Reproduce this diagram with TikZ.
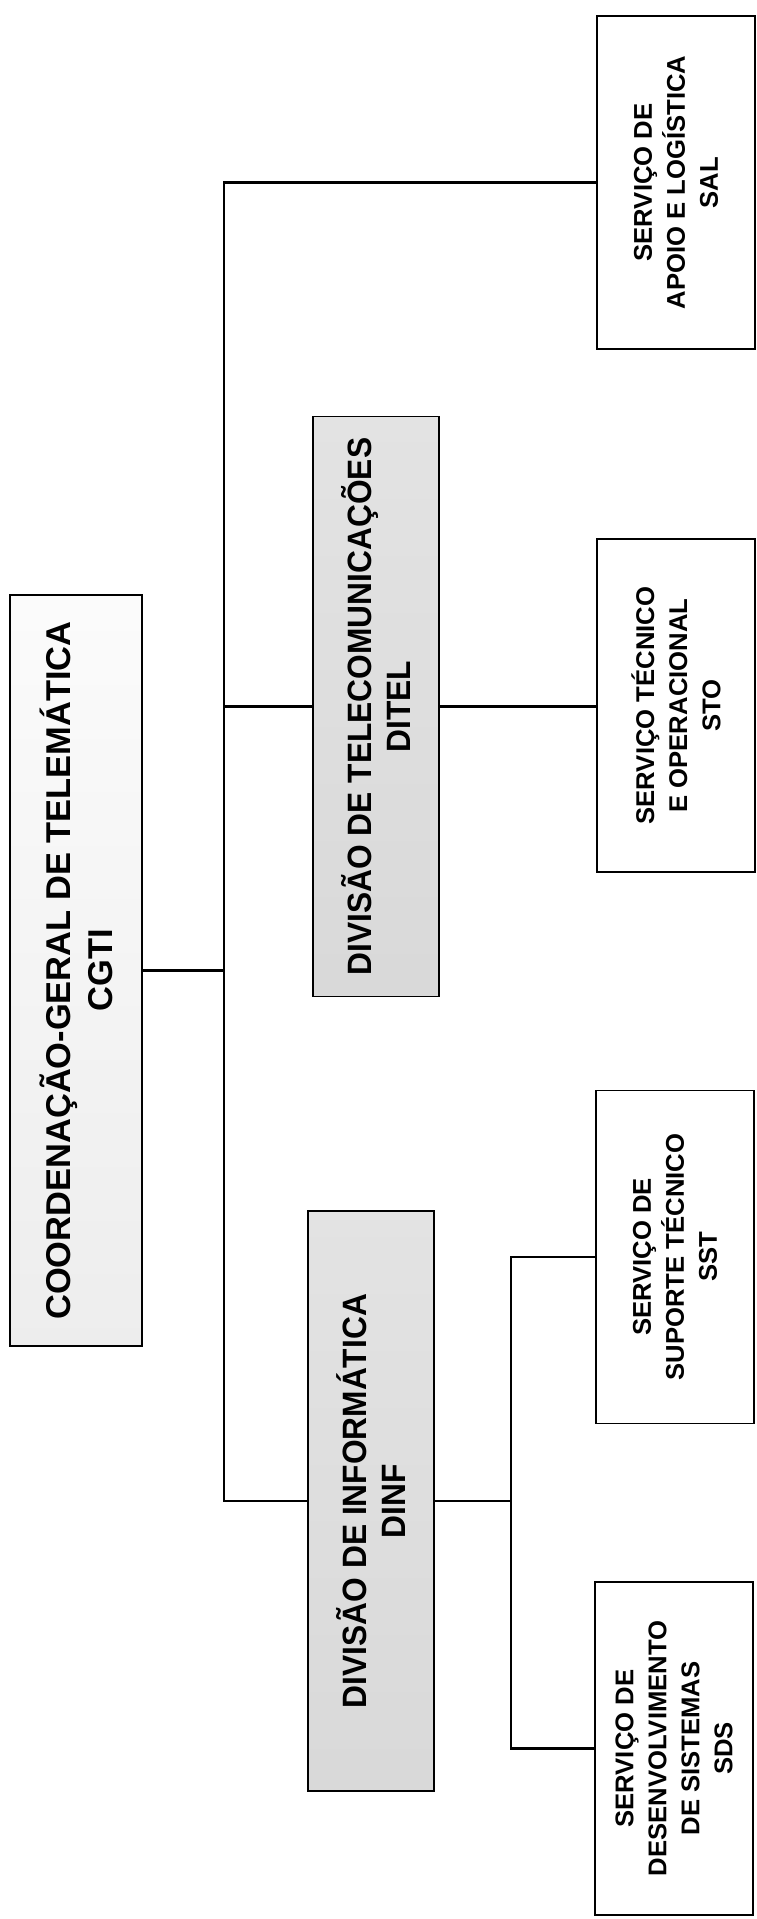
\documentclass[tikz,border=0pt]{standalone}
\usepackage{fontspec}
\setmainfont{Liberation Sans}
\newfontfamily\narrowsans[FakeStretch=0.94]{Liberation Sans}
\usetikzlibrary{positioning}

\begin{document}
\begin{tikzpicture}[
  box/.style={draw, rotate=90, align=center, inner sep=2pt, line width=0.9pt},
  head/.style={box, font=\bfseries\fontsize{19.6}{24}\selectfont,
    minimum width=15.02cm, minimum height=2.64cm, top color=gray!3, bottom color=gray!14},
  divbox/.style={box, font=\narrowsans\bfseries\fontsize{19.2}{21.8}\selectfont,
    minimum width=11.6cm, minimum height=2.52cm,
    top color=gray!22, middle color=gray!6, bottom color=gray!30},
  svc/.style={box, fill=white, font=\bfseries\fontsize{14.6}{18.8}\selectfont,
    minimum width=6.66cm, minimum height=3.16cm},
  link/.style={line width=1.5pt},
]
  \useasboundingbox (0,0) rectangle (15.12,-38.38);

  \node[head] (cgti) at (1.52,-19.41) {COORDENAÇÃO-GERAL DE TELEMÁTICA\\CGTI};

  \node[divbox] (ditel) at (7.52,-14.13) {DIVISÃO DE TELECOMUNICAÇÕES\\DITEL};
  \node[divbox] (dinf) at (7.42,-30.02) {DIVISÃO DE INFORMÁTICA\\DINF};

  \node[svc] (sal) at (13.52,-3.65) {SERVIÇO DE\\APOIO E LOGÍSTICA\\SAL};
  \node[svc] (sto) at (13.52,-14.11) {SERVIÇO TÉCNICO\\E OPERACIONAL\\STO};
  \node[svc] (sst) at (13.50,-25.14) {SERVIÇO DE\\SUPORTE TÉCNICO\\SST};
  \node[svc] (sds) at (13.48,-34.97) {SERVIÇO DE\\DESENVOLVIMENTO\\DE SISTEMAS\\SDS};

  \coordinate (trunk) at (4.48,0);
  \coordinate (subtrunk) at (10.22,0);

  \draw[link] (sal.north) -| (trunk |- dinf.north) -- (dinf.north);
  \draw[link] (cgti.south) -- (cgti.south -| trunk);
  \draw[link] (ditel.north -| trunk) -- (ditel.north);
  \draw[link] (ditel.south) -- (ditel.south -| sto.north);
  \draw[link] (dinf.south) -- (dinf.south -| subtrunk);
  \draw[link] (sst.north) -| (subtrunk |- sds.north) -- (sds.north);
\end{tikzpicture}
\end{document}
